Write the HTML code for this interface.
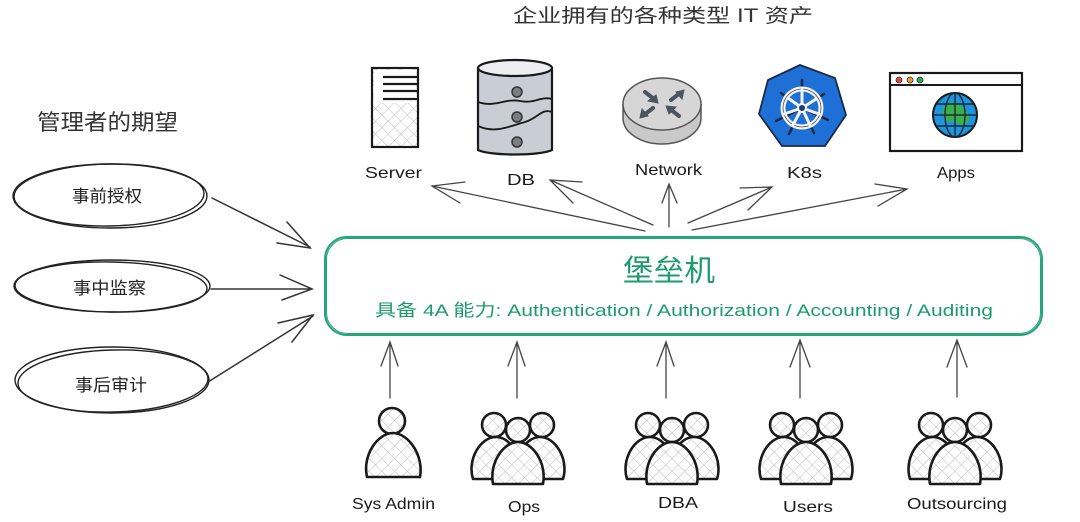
<!DOCTYPE html>
<html><head><meta charset="utf-8">
<style>
html,body{margin:0;padding:0;background:#fff;}
svg{display:block;}
.hand{font-family:"Liberation Sans","Noto Sans CJK SC",sans-serif;}
.cn{font-family:"Liberation Sans","Noto Sans CJK SC",sans-serif;}
</style></head>
<body>
<svg width="1080" height="522" viewBox="0 0 1080 522" xmlns="http://www.w3.org/2000/svg">
<defs>
  <pattern id="hatch" width="9" height="9" patternUnits="userSpaceOnUse" patternTransform="rotate(45)">
    <rect width="9" height="9" fill="#fff"/>
    <line x1="0" y1="0" x2="0" y2="9" stroke="#bdbdbd" stroke-width="1"/>
    <line x1="0" y1="0" x2="9" y2="0" stroke="#bdbdbd" stroke-width="1"/>
  </pattern>
  <g id="grp" stroke="#1a1a1a" stroke-width="2.6" fill="url(#hatch)" stroke-linejoin="round">
    <circle cx="-24" cy="425" r="12"/>
    <circle cx="24" cy="425" r="12"/>
    <path d="M -45 479 C -51 460 -38 437 -22 437 C -8 437 4 455 2 479 Z"/>
    <path d="M 45 479 C 51 460 38 437 22 437 C 8 437 -4 455 -2 479 Z"/>
    <circle cx="0" cy="430" r="12"/>
    <path d="M -25 484 C -29 462 -14 442 0 442 C 14 442 29 462 25 484 Z"/>
  </g>
</defs>

<!-- titles -->
<text x="513" y="22" class="cn" font-size="19" fill="#333" textLength="300" lengthAdjust="spacingAndGlyphs">企业拥有的各种类型 IT 资产</text>
<text x="37" y="130" class="cn" font-size="22" fill="#333" textLength="141" lengthAdjust="spacingAndGlyphs">管理者的期望</text>

<!-- ellipses -->
<g fill="none" stroke="#222" stroke-width="1.4">
  <ellipse cx="110" cy="196" rx="97" ry="32"/>
  <ellipse cx="109" cy="195" rx="95" ry="31" transform="rotate(-1 109 195)"/>
  <ellipse cx="112" cy="286" rx="98" ry="26"/>
  <ellipse cx="111" cy="287" rx="96" ry="25" transform="rotate(1 111 287)"/>
  <ellipse cx="112" cy="380" rx="97" ry="33"/>
  <ellipse cx="113" cy="381" rx="95" ry="31" transform="rotate(-1.5 113 381)"/>
</g>
<text x="72" y="202" class="cn" font-size="17" fill="#222" textLength="70" lengthAdjust="spacingAndGlyphs">事前授权</text>
<text x="73" y="294" class="cn" font-size="17" fill="#222" textLength="73" lengthAdjust="spacingAndGlyphs">事中监察</text>
<text x="75" y="391" class="cn" font-size="17" fill="#222" textLength="72" lengthAdjust="spacingAndGlyphs">事后审计</text>

<!-- left arrows -->
<g fill="none" stroke="#333" stroke-width="1.5" stroke-linecap="round">
  <path d="M212 198 L310 247 M287 222 L310 248 L277 243"/>
  <path d="M211 289 L312 289 M280 275 L312 289 L282 300"/>
  <path d="M208 382 L313 316 M278 323 L313 315 L292 342"/>
</g>

<!-- main box -->
<g fill="none" stroke="#26a57a">
  <rect x="325" y="237" width="717" height="98" rx="22" stroke-width="2"/>
  <rect x="326.5" y="238.5" width="714" height="95" rx="21" stroke-width="1"/>
</g>
<text x="623" y="281" class="cn" font-size="30" fill="#1e9b6e" textLength="92" lengthAdjust="spacingAndGlyphs">堡垒机</text>
<text x="375" y="316" class="hand" font-size="17" fill="#1e9b6e" textLength="618" lengthAdjust="spacingAndGlyphs">具备 4A 能力: Authentication / Authorization / Accounting / Auditing</text>

<!-- top arrows -->
<g fill="none" stroke="#444" stroke-width="1.3" stroke-linecap="round">
  <path d="M645 231 L432 186 M465 182 L432 186 L460 203"/>
  <path d="M653 225 L550 180 M582 182 L550 180 L573 203"/>
  <path d="M669 227 L669 184 M662 203 L669 184 L677 203"/>
  <path d="M688 223 L772 187 M740 188 L772 187 L748 210"/>
  <path d="M692 230 L907 189 M875 184 L907 189 L878 206"/>
</g>

<!-- Server -->
<rect x="372" y="68" width="46" height="79" fill="url(#hatch)" stroke="#1a1a1a" stroke-width="2.2"/>
<rect x="374" y="70" width="42" height="33" fill="#fff"/>
<g stroke="#1a1a1a" stroke-width="2.2">
  <line x1="383" y1="77" x2="418" y2="77"/>
  <line x1="383" y1="84" x2="418" y2="84"/>
  <line x1="383" y1="91" x2="418" y2="91"/>
  <line x1="383" y1="99" x2="418" y2="99"/>
</g>
<text x="365" y="178" class="hand" font-size="16" fill="#1a1a1a" textLength="57" lengthAdjust="spacingAndGlyphs">Server</text>

<!-- DB -->
<path d="M478 68 L478 150 C490 156 540 156 552 150 L552 68" fill="#c8cdd6" stroke="#1a1a1a" stroke-width="2.2"/>
<ellipse cx="515" cy="68" rx="37" ry="8" fill="#eceef1" stroke="#1a1a1a" stroke-width="2.2"/>
<path d="M478 102 C495 108 505 98 520 101 C535 104 540 96 552 99" fill="none" stroke="#1a1a1a" stroke-width="1.8"/>
<path d="M478 126 C495 134 510 126 525 122 C538 118 542 108 552 112" fill="none" stroke="#1a1a1a" stroke-width="1.8"/>
<g fill="#7a7d82" stroke="#333" stroke-width="1.5">
  <circle cx="517" cy="92" r="5"/>
  <circle cx="517" cy="117" r="5"/>
  <circle cx="517" cy="142" r="5"/>
</g>
<text x="507" y="185" class="hand" font-size="16" fill="#1a1a1a" textLength="28" lengthAdjust="spacingAndGlyphs">DB</text>

<!-- Network -->
<path d="M623 104 L623 118 A39 26 0 0 0 701 118 L701 104" fill="#c9c9c9" stroke="#555" stroke-width="1.5"/>
<ellipse cx="662" cy="104" rx="39" ry="26" fill="#d6d6d6" stroke="#555" stroke-width="1.5"/>
<g stroke="#4a5560" stroke-width="4" fill="#4a5560" stroke-linecap="round">
  <line x1="645" y1="92" x2="654" y2="99"/>
  <polygon points="658,103 648,101 656,95" stroke-width="1"/>
  <line x1="671" y1="100" x2="680" y2="93"/>
  <polygon points="684,90 682,99 676,92" stroke-width="1"/>
  <line x1="653" y1="108" x2="644" y2="115"/>
  <polygon points="640,118 642,109 648,116" stroke-width="1"/>
  <line x1="679" y1="116" x2="670" y2="109"/>
  <polygon points="666,106 676,107 669,114" stroke-width="1"/>
</g>
<text x="635" y="175" class="hand" font-size="16" fill="#1a1a1a" textLength="67" lengthAdjust="spacingAndGlyphs">Network</text>

<!-- K8s -->
<polygon points="800,65 835,78 846,115 825,146 782,146 759,114 768,80" fill="#1e6fd6" stroke="#1a2a44" stroke-width="1.8"/>
<g stroke="#1a2a44" stroke-width="2.5" stroke-linecap="round">
  <line x1="802" y1="108" x2="802" y2="80"/>
  <line x1="802" y1="108" x2="824" y2="94"/>
  <line x1="802" y1="108" x2="828" y2="120"/>
  <line x1="802" y1="108" x2="814" y2="133"/>
  <line x1="802" y1="108" x2="789" y2="134"/>
  <line x1="802" y1="108" x2="776" y2="121"/>
  <line x1="802" y1="108" x2="781" y2="93"/>
</g>
<circle cx="802" cy="108" r="19" fill="none" stroke="#f4f4f4" stroke-width="5"/>
<circle cx="802" cy="108" r="19" fill="none" stroke="#555" stroke-width="0.8"/>
<g stroke="#f4f4f4" stroke-width="3" stroke-linecap="round">
  <line x1="802" y1="108" x2="802" y2="90"/>
  <line x1="802" y1="108" x2="816" y2="99"/>
  <line x1="802" y1="108" x2="819" y2="114"/>
  <line x1="802" y1="108" x2="810" y2="125"/>
  <line x1="802" y1="108" x2="793" y2="125"/>
  <line x1="802" y1="108" x2="784" y2="114"/>
  <line x1="802" y1="108" x2="788" y2="98"/>
</g>
<circle cx="802" cy="108" r="4" fill="#1a3a7a" stroke="#f4f4f4" stroke-width="2"/>
<text x="787" y="178" class="hand" font-size="16" fill="#1a1a1a" textLength="35" lengthAdjust="spacingAndGlyphs">K8s</text>

<!-- Apps -->
<rect x="890" y="73" width="132" height="78" fill="#fff" stroke="#1a1a1a" stroke-width="2.2"/>
<line x1="890" y1="85" x2="1022" y2="85" stroke="#1a1a1a" stroke-width="2"/>
<circle cx="899" cy="80" r="3" fill="#e04848" stroke="#333" stroke-width="0.8"/>
<circle cx="910" cy="80" r="3" fill="#e0a030" stroke="#333" stroke-width="0.8"/>
<circle cx="920" cy="80" r="3" fill="#2ea84a" stroke="#333" stroke-width="0.8"/>
<circle cx="955" cy="115" r="22" fill="#1e94dc" stroke="#1a1a1a" stroke-width="2"/>
<path d="M944 106 C950 100 960 102 963 108 C968 112 972 118 966 124 C960 128 958 120 950 122 C944 120 940 112 944 106 Z" fill="#3bb04a"/>
<g fill="none" stroke="#1a2a3a" stroke-width="1.4">
  <ellipse cx="955" cy="115" rx="10" ry="22"/>
  <line x1="955" y1="93" x2="955" y2="137"/>
  <line x1="933" y1="115" x2="977" y2="115"/>
  <path d="M937 104 L973 104 M937 126 L973 126"/>
</g>
<text x="937" y="178" class="hand" font-size="16" fill="#1a1a1a" textLength="38" lengthAdjust="spacingAndGlyphs">Apps</text>

<!-- bottom arrows -->
<g fill="none" stroke="#444" stroke-width="1.3" stroke-linecap="round">
  <path d="M390 398 L390 342 M381 366 L390 342 L398 366"/>
  <path d="M517 398 L517 342 M508 366 L517 342 L525 366"/>
  <path d="M666 398 L666 342 M657 366 L666 342 L674 366"/>
  <path d="M800 398 L800 340 M790 367 L800 340 L810 367"/>
  <path d="M957 397 L957 340 M947 367 L957 340 L967 367"/>
</g>

<!-- people -->
<g stroke="#1a1a1a" stroke-width="2.6" fill="url(#hatch)">
  <circle cx="392" cy="421" r="13"/>
  <path d="M367 477 C362 455 378 433 393 433 C408 433 424 455 420 477 Z"/>
</g>
<use href="#grp" x="518" y="0"/>
<use href="#grp" x="672" y="0"/>
<use href="#grp" x="806" y="0"/>
<use href="#grp" x="955" y="0"/>

<text x="352" y="509" class="hand" font-size="16" fill="#1a1a1a" textLength="83" lengthAdjust="spacingAndGlyphs">Sys Admin</text>
<text x="508" y="512" class="hand" font-size="16" fill="#1a1a1a" textLength="32" lengthAdjust="spacingAndGlyphs">Ops</text>
<text x="658" y="508" class="hand" font-size="16" fill="#1a1a1a" textLength="40" lengthAdjust="spacingAndGlyphs">DBA</text>
<text x="783" y="512" class="hand" font-size="16" fill="#1a1a1a" textLength="50" lengthAdjust="spacingAndGlyphs">Users</text>
<text x="907" y="509" class="hand" font-size="16" fill="#1a1a1a" textLength="100" lengthAdjust="spacingAndGlyphs">Outsourcing</text>
</svg>
</body></html>
